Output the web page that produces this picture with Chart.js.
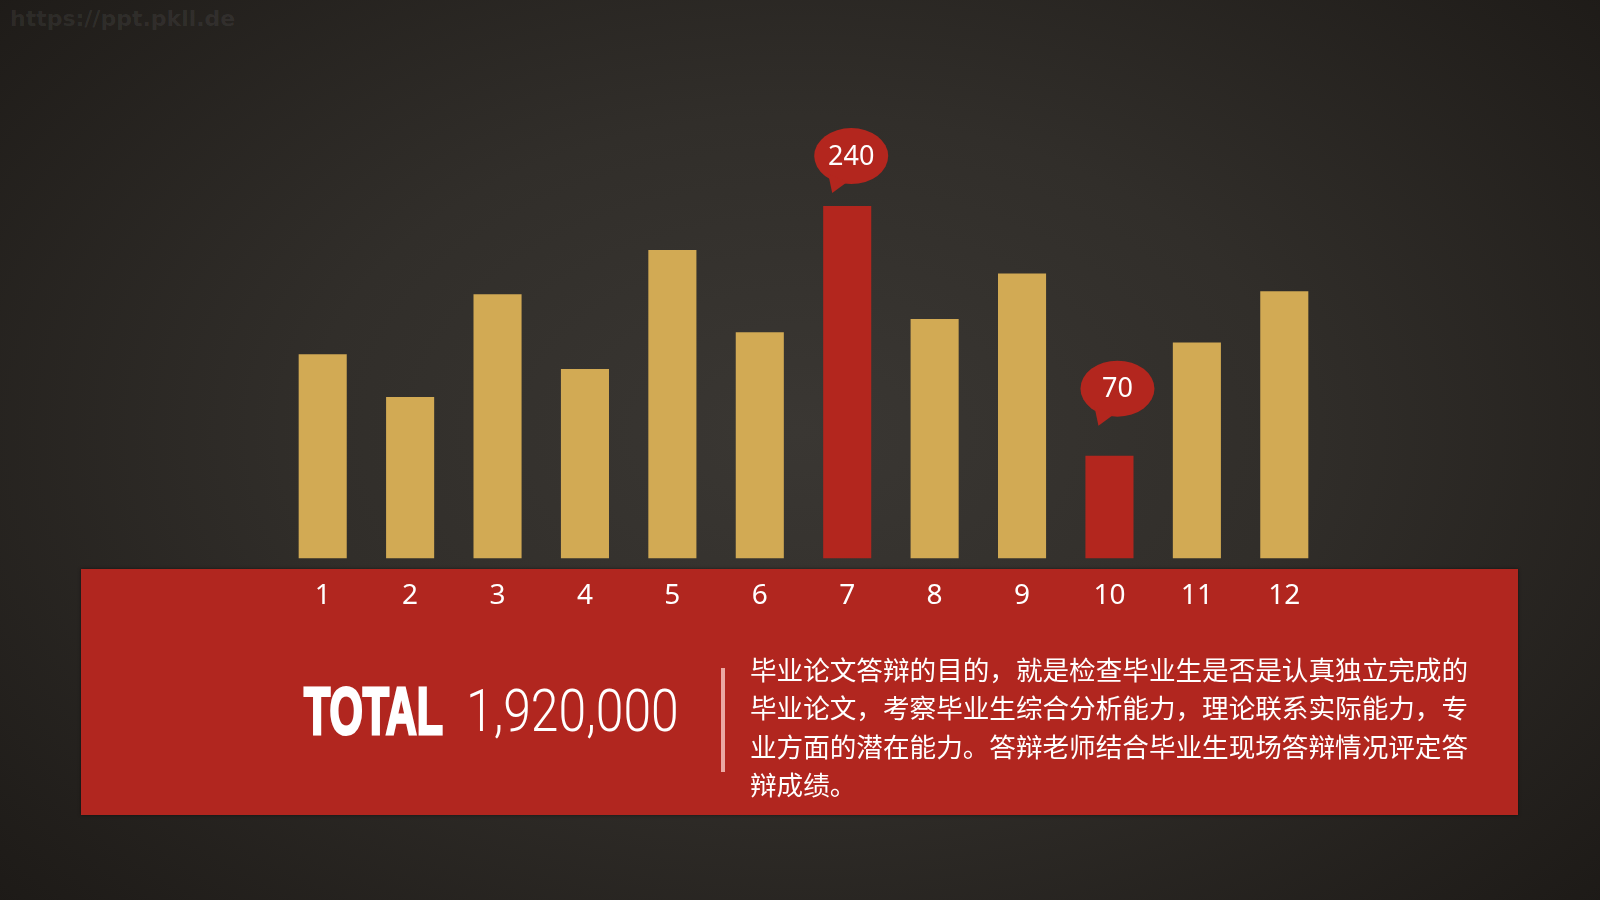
<!DOCTYPE html>
<html>
<head>
<meta charset="utf-8">
<script src="https://cdn.jsdelivr.net/npm/chart.js@4/dist/chart.umd.min.js"></script>
<style>
  html, body { margin:0; padding:0; }
  body {
    width:1600px; height:900px; overflow:hidden; position:relative;
    background: radial-gradient(ellipse 68% 78% at 50% 48%, #3a3733 0%, #312e2a 45%, #1d1a17 100%);
    font-family: "Noto Sans CJK SC", "Noto Sans", sans-serif;
  }
  .watermark {
    position:absolute; left:10px; top:6px;
    font: bold 22px "DejaVu Sans", sans-serif;
    color: rgba(255,255,255,0.07);
  }
  .band {
    position:absolute; left:81px; top:569px; width:1437px; height:246px;
    background:#b1261f;
    box-shadow: 0 0 3px rgba(0,0,0,0.5);
  }
  #chart { position:absolute; left:0; top:0; }
  .total {
    position:absolute; left:304px; top:678px;
    font: 700 66px/1 "Liberation Sans Narrow", "Liberation Sans", sans-serif;
    color:#fff; -webkit-text-stroke: 3px #fff;
    transform: scaleX(0.65); transform-origin: left top;
  }
  .amount {
    position:absolute; left:466px; top:681px;
    font: 300 59px/1 Roboto, sans-serif;
    color:#fff; white-space:nowrap;
    transform: scaleX(0.845); transform-origin: left top;
  }
  .divider {
    position:absolute; left:721px; top:668px; width:4px; height:104px;
    background:#eba9a3;
  }
  .desc {
    position:absolute; left:750px; top:650px; width:740px;
    font: 400 26.6px/38.4px "Noto Sans CJK SC", sans-serif;
    color:#fff; white-space:nowrap;
  }
</style>
</head>
<body>
<div class="watermark">https://ppt.pkll.de</div>
<div class="band"></div>
<canvas id="chart" width="1600" height="900"></canvas>
<div class="total">TOTAL</div>
<div class="amount">1,920,000</div>
<div class="divider"></div>
<div class="desc">毕业论文答辩的目的，就是检查毕业生是否是认真独立完成的<br>毕业论文，考察毕业生综合分析能力，理论联系实际能力，专<br>业方面的潜在能力。答辩老师结合毕业生现场答辩情况评定答<br>辩成绩。</div>

<script>
// ===== Data =====
const MONTHS = ['1','2','3','4','5','6','7','8','9','10','11','12'];
const VALUES = [139, 110, 180, 129, 210, 154, 240, 163, 194, 70, 147, 182];
const HIGHLIGHT = ['7', '10'];   // bars shown in red with a callout

const GOLD = '#d2aa54';
const RED  = '#b3261e';

// ===== Callout bubbles above highlighted bars =====
const calloutPlugin = {
  id: 'callouts',
  afterDatasetsDraw(chart, args, opts) {
    const ctx = chart.ctx;
    const meta = chart.getDatasetMeta(0);
    opts.items.forEach(item => {
      const i = MONTHS.indexOf(item.label);
      const bar = meta.data[i];
      const cx = bar.x + item.dx, cy = bar.y - item.lift;
      ctx.save();
      ctx.fillStyle = RED;
      ctx.beginPath();
      ctx.ellipse(cx, cy, 37, 28, 0, 0, Math.PI * 2);
      ctx.fill();
      // tail
      ctx.beginPath();
      ctx.moveTo(cx - 23, cy + 18);
      ctx.lineTo(cx - 4, cy + 26);
      ctx.lineTo(cx - 19, cy + 37);
      ctx.closePath();
      ctx.fill();
      ctx.fillStyle = '#fff';
      ctx.font = '400 27px "Noto Sans", sans-serif';
      ctx.textAlign = 'center';
      ctx.textBaseline = 'middle';
      ctx.fillText(String(VALUES[i]), cx, cy + 1);
      ctx.restore();
    });
  }
};

new Chart(document.getElementById('chart'), {
  type: 'bar',
  data: {
    labels: MONTHS,
    datasets: [{
      data: VALUES,
      backgroundColor: MONTHS.map(m => HIGHLIGHT.includes(m) ? RED : GOLD),
      borderWidth: 0,
      categoryPercentage: 1,
      barPercentage: 0.55
    }]
  },
  options: {
    responsive: false,
    animation: false,
    layout: { padding: { left: 279, right: 272, top: 118, bottom: 266 } },
    plugins: {
      legend: { display: false },
      tooltip: { enabled: false },
      callouts: { items: [ { label: '7', dx: 4, lift: 50 }, { label: '10', dx: 8, lift: 67 } ] }
    },
    scales: {
      x: {
        grid: { display: false, drawTicks: false },
        border: { display: false },
        ticks: { color: '#fff', padding: 21, font: { family: '"Noto Sans", sans-serif', size: 28 } }
      },
      y: { display: false, min: 0, max: 300 }
    }
  },
  plugins: [calloutPlugin]
});
</script>
</body>
</html>
